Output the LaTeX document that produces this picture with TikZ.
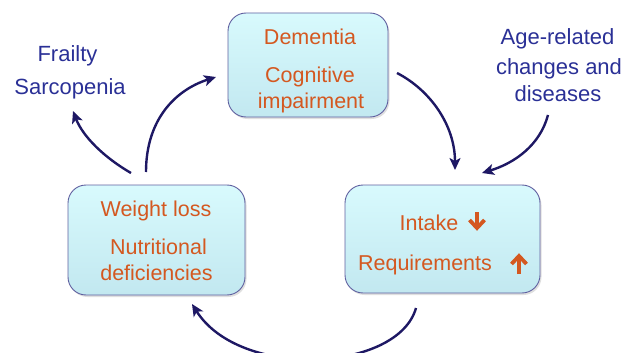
\documentclass[tikz,border=0pt]{standalone}
\usepackage{fontspec}
\setmainfont{Liberation Sans}
\usetikzlibrary{arrows.meta,shadows}
\definecolor{orng}{RGB}{212,88,32}
\definecolor{txtblue}{RGB}{42,48,150}
\definecolor{arrblue}{RGB}{30,24,100}
\definecolor{boxline}{RGB}{96,96,160}
\definecolor{boxtop}{RGB}{216,250,253}
\definecolor{boxbot}{RGB}{194,232,240}
\tikzset{
  box/.style={draw=boxline, line width=0.9pt, rounded corners=18pt,
    top color=boxtop, bottom color=boxbot,
    drop shadow={opacity=0.25, shadow xshift=1.5pt, shadow yshift=-2pt},
    inner sep=0pt},
  otxt/.style={text=orng, anchor=base, inner sep=0pt, font=\fontsize{21.5}{24}\selectfont},
  btxt/.style={text=txtblue, anchor=base, inner sep=0pt, font=\fontsize{22}{25}\selectfont},
  conn/.style={draw=arrblue, line width=2.4pt, -{Stealth[length=12pt,width=11pt,inset=3pt]}},
  udarrow/.style={draw=orng, line width=3.8pt}
}
\begin{document}
\begin{tikzpicture}[x=1pt,y=-1pt]
\useasboundingbox (0,0) rectangle (627,353);
% boxes
\node[box, minimum width=160pt, minimum height=104pt] (dem) at (308,65) {};
\node[box, minimum width=195pt, minimum height=108pt] (intk) at (442.5,239) {};
\node[box, minimum width=177pt, minimum height=110pt] (wl) at (156.5,240) {};
% box texts
\node[otxt] (t1) at (310,45) {Dementia};
\node[otxt] (t2) at (310,82) {Cognitive};
\node[otxt] (t3) at (311,109) {impairment};
\node[otxt] (t4) at (429,230) {Intake};
\node[otxt] (t5) at (425,270) {Requirements};
\node[otxt] (t6) at (156,216) {Weight loss};
\node[otxt] (t7) at (158.5,254) {Nutritional};
\node[otxt] (t8) at (156.5,280) {deficiencies};
% blue texts
\node[btxt] (fr) at (67.5,62) {Frailty};
\node[btxt] (sa) at (70,95) {Sarcopenia};
\node[btxt] (ag1) at (557.5,45) {Age-related};
\node[btxt] (ag2) at (559,75) {changes and};
\node[btxt] (ag3) at (558,102) {diseases};
% small orange arrows
\draw[udarrow] (477,212) -- (477,226);
\draw[udarrow, line join=miter, line cap=butt] (469.5,220) -- (477,228) -- (484.5,220);
\draw[udarrow] (519,274) -- (519,259);
\draw[udarrow, line join=miter, line cap=butt] (511.5,264) -- (519,256) -- (526.5,264);
% connector coordinates
\coordinate (a1s) at (146,172);
\coordinate (a1e) at (216,77);
\coordinate (a2s) at (397,73);
\coordinate (a2e) at (455,170);
\coordinate (a3s) at (548,115);
\coordinate (a3e) at (482,173);
\coordinate (a4s) at (131,173);
\coordinate (a4e) at (73,111);
\coordinate (a5s) at (416,308);
\coordinate (a5e) at (192,304);
% connectors
\draw[conn] (a1s) .. controls (146,120) and (175,90) .. (a1e);
\draw[conn] (a2s) .. controls (430,90) and (455,125) .. (a2e);
\draw[conn] (a3s) .. controls (540,145) and (515,163) .. (a3e);
\draw[conn] (a4s) .. controls (105,158) and (83,137) .. (a4e);
\draw[conn] (a5s) .. controls (398,372) and (240,380) .. (a5e);
\end{tikzpicture}
\end{document}
